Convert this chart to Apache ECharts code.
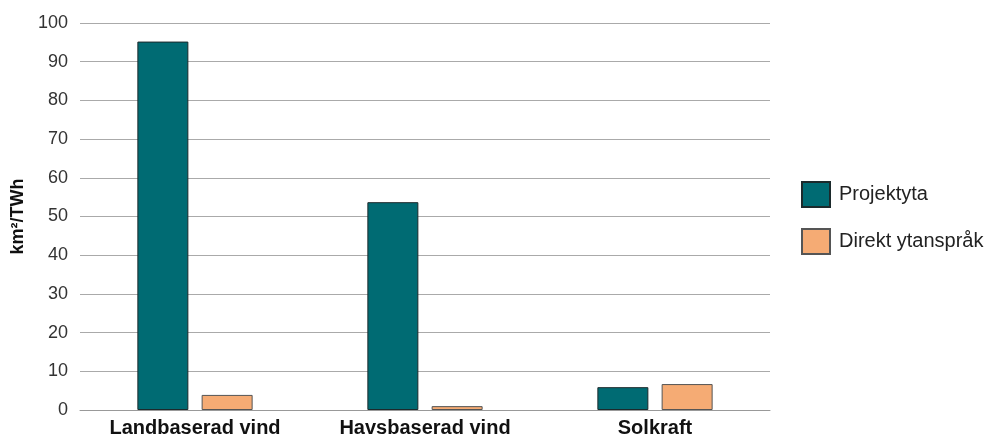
<!DOCTYPE html>
<html>
<head>
<meta charset="utf-8">
<script src="https://cdn.jsdelivr.net/npm/echarts@6/dist/echarts.min.js"></script>
<style>
  html, body { margin: 0; padding: 0; background: #fff; }
  #chart { width: 990px; height: 436px; }
</style>
</head>
<body>
<div id="chart"></div>
<script>
// Data
const categories = ["Landbaserad vind", "Havsbaserad vind", "Solkraft"];
const projektyta = [95.2, 53.7, 5.9];
const direktYtansprak = [3.9, 1.0, 6.7];

const FONT = "Liberation Sans, Arial, sans-serif";

const chart = echarts.init(document.getElementById("chart"));

const option = {
  animation: false,
  textStyle: { fontFamily: FONT },
  grid: { left: 80, right: 220, top: 23, bottom: 26, outerBoundsMode: "none", containLabel: false },
  legend: {
    orient: "vertical",
    left: 796,
    top: 176,
    icon: "rect",
    itemWidth: 28,
    itemHeight: 25,
    itemGap: 20,
    textStyle: { fontSize: 20, color: "#222", fontFamily: FONT, padding: [0, 0, 0, 4] },
    data: ["Projektyta", "Direkt ytanspråk"],
  },
  xAxis: {
    type: "category",
    data: categories,
    axisTick: { show: false },
    axisLine: { lineStyle: { color: "#999", width: 1 } },
    axisLabel: { fontSize: 20, fontWeight: "bold", color: "#111", margin: 8, fontFamily: FONT },
  },
  yAxis: {
    type: "value",
    min: 0,
    max: 100,
    interval: 10,
    name: "km²/TWh",
    nameLocation: "middle",
    nameGap: 53,
    nameTextStyle: { fontSize: 18, fontWeight: "bold", color: "#111", fontFamily: FONT },
    axisLine: { show: false },
    axisTick: { show: false },
    axisLabel: { fontSize: 18, color: "#333", margin: 12, fontFamily: FONT },
    splitLine: { lineStyle: { color: "#aaa", width: 1 } },
  },
  series: [
    {
      name: "Projektyta",
      type: "bar",
      data: projektyta,
      barWidth: 51,
      barGap: "26%",
      itemStyle: { color: "#006b73", borderColor: "#1c2a2c", borderWidth: 1 },
    },
    {
      name: "Direkt ytanspråk",
      type: "bar",
      data: direktYtansprak,
      barWidth: 51,
      barGap: "26%",
      itemStyle: { color: "#f5ab74", borderColor: "#555", borderWidth: 1 },
    },
  ],
};

chart.setOption(option);
</script>
</body>
</html>
